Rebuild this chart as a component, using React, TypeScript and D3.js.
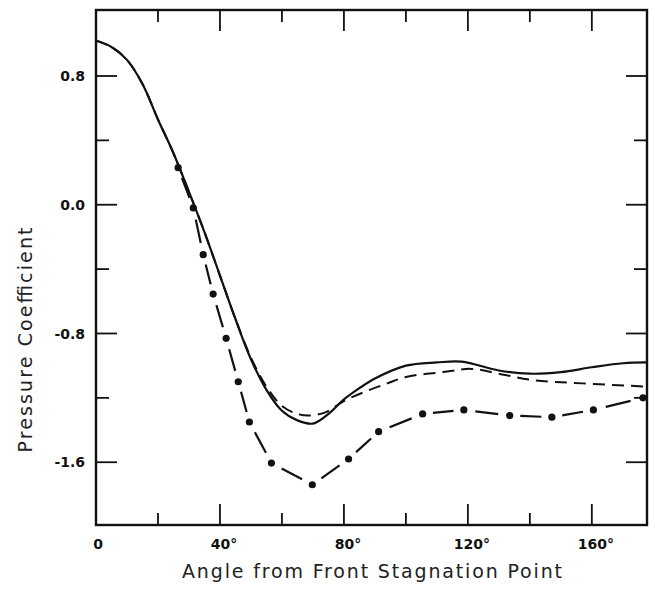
import * as d3 from 'd3'
import React from 'react'

// angle from front stagnation point (deg) vs pressure coefficient
const solidAngle = [0, 5, 10, 15, 20, 25, 30, 35, 40, 45, 50, 55, 60, 65, 70, 75, 80, 85, 90, 100, 110, 118, 130, 140, 150, 160, 170, 177.8];
const solidCp = [1.02, 0.98, 0.9, 0.75, 0.53, 0.32, 0.08, -0.17, -0.44, -0.71, -0.96, -1.15, -1.28, -1.34, -1.36, -1.3, -1.21, -1.14, -1.08, -1.0, -0.98, -0.975, -1.03, -1.05, -1.04, -1.01, -0.985, -0.98];

const dashAngle = [0, 5, 10, 15, 20, 25, 30, 35, 40, 45, 50, 55, 60, 65, 69, 74, 80, 87, 94, 100, 112, 121, 130, 141, 157, 177.8];
const dashCp = [1.02, 0.98, 0.9, 0.75, 0.53, 0.32, 0.08, -0.17, -0.44, -0.71, -0.95, -1.13, -1.25, -1.3, -1.31, -1.29, -1.22, -1.16, -1.11, -1.07, -1.04, -1.02, -1.05, -1.09, -1.11, -1.13];

// measured points (dots joined by dashes)
const expAngle = [26.5, 31.4, 34.6, 37.8, 42.0, 45.9, 49.5, 56.6, 69.8, 81.5, 91.2, 105.4, 118.7, 133.5, 147.1, 160.5, 176.5];
const expCp = [0.23, -0.02, -0.31, -0.555, -0.83, -1.1, -1.35, -1.605, -1.74, -1.58, -1.41, -1.3, -1.275, -1.31, -1.32, -1.275, -1.2];

const xMajor = [40, 80, 120, 160];
const xMinor = [20, 60, 100, 140];
const yMajor = [0.8, 0.0, -0.8, -1.6];
const yMinor = [0.4, -0.4, -1.2];

const W = 650, H = 592;
const left = 96, right = 647, top = 10, bottom = 525;

const App = () => {
    const x = d3.scaleLinear().domain([0, 177.8]).range([left, right]);
    const y = d3.scaleLinear().domain([1.21, -1.99]).range([top, bottom]);

    const line = d3.line<[number, number]>()
        .x(d => x(d[0]))
        .y(d => y(d[1]))
        .curve(d3.curveCatmullRom.alpha(0.5));

    const solid: [number, number][] = solidAngle.map((a, i) => [a, solidCp[i]]);
    const dashed: [number, number][] = dashAngle.map((a, i) => [a, dashCp[i]]);
    const exp: [number, number][] = expAngle.map((a, i) => [a, expCp[i]]);

    const font = "'DejaVu Sans', sans-serif";
    const ink = '#111';

    return (
        <svg width={W} height={H} style={{ position: 'absolute', left: 0, top: 0, background: '#fff' }}>
            {/* frame */}
            <rect x={left} y={top} width={right - left} height={bottom - top} fill='none' stroke={ink} strokeWidth={2.4} />

            {/* ticks */}
            {xMajor.map(t => (
                <g key={'xM' + t}>
                    <line x1={x(t)} x2={x(t)} y1={bottom} y2={bottom - 21} stroke={ink} strokeWidth={1.8} />
                    <line x1={x(t)} x2={x(t)} y1={top} y2={top + 21} stroke={ink} strokeWidth={1.8} />
                    <text x={x(t) + 4} y={bottom + 24} textAnchor='middle' fontFamily={font} fontWeight='bold' fontSize={14} fill={ink}>{t}°</text>
                </g>
            ))}
            {xMinor.map(t => (
                <g key={'xm' + t}>
                    <line x1={x(t)} x2={x(t)} y1={bottom} y2={bottom - 12} stroke={ink} strokeWidth={1.8} />
                    <line x1={x(t)} x2={x(t)} y1={top} y2={top + 12} stroke={ink} strokeWidth={1.8} />
                </g>
            ))}
            <text x={x(0) + 2} y={bottom + 24} textAnchor='middle' fontFamily={font} fontWeight='bold' fontSize={14} fill={ink}>0</text>

            {yMajor.map(t => (
                <g key={'yM' + t}>
                    <line x1={left} x2={left + 21} y1={y(t)} y2={y(t)} stroke={ink} strokeWidth={1.8} />
                    <line x1={right} x2={right - 21} y1={y(t)} y2={y(t)} stroke={ink} strokeWidth={1.8} />
                    <text x={left - 11} y={y(t)} dy='0.36em' textAnchor='end' fontFamily={font} fontWeight='bold' fontSize={14} fill={ink}>{t === 0 ? '0.0' : t.toFixed(1)}</text>
                </g>
            ))}
            {yMinor.map(t => (
                <g key={'ym' + t}>
                    <line x1={left} x2={left + 13} y1={y(t)} y2={y(t)} stroke={ink} strokeWidth={1.8} />
                    <line x1={right} x2={right - 13} y1={y(t)} y2={y(t)} stroke={ink} strokeWidth={1.8} />
                </g>
            ))}

            {/* curves */}
            <path d={line(dashed) ?? ''} fill='none' stroke={ink} strokeWidth={2} strokeDasharray='12 7' />
            <path d={line(solid) ?? ''} fill='none' stroke={ink} strokeWidth={2.2} />

            {exp.slice(1).map((d, i) => {
                const p0 = exp[i];
                const x0 = x(p0[0]), y0 = y(p0[1]), x1 = x(d[0]), y1 = y(d[1]);
                const a = 0.25, b = 0.75;
                return (
                    <line key={'seg' + i}
                        x1={x0 + (x1 - x0) * a} y1={y0 + (y1 - y0) * a}
                        x2={x0 + (x1 - x0) * b} y2={y0 + (y1 - y0) * b}
                        stroke={ink} strokeWidth={2.2} />
                );
            })}
            {exp.map((d, i) => (
                <circle key={'pt' + i} cx={x(d[0])} cy={y(d[1])} r={3.6} fill={ink} />
            ))}

            {/* axis titles */}
            <text x={372} y={578} textAnchor='middle' fontFamily={font} fontSize={19} fill='#222' textLength={380} lengthAdjust='spacing'>Angle from Front Stagnation Point</text>
            <text transform='translate(32,340) rotate(-90)' textAnchor='middle' fontFamily={font} fontSize={19} fill='#222' textLength={225} lengthAdjust='spacing'>Pressure Coefficient</text>
        </svg>
    );
};

export default App;
